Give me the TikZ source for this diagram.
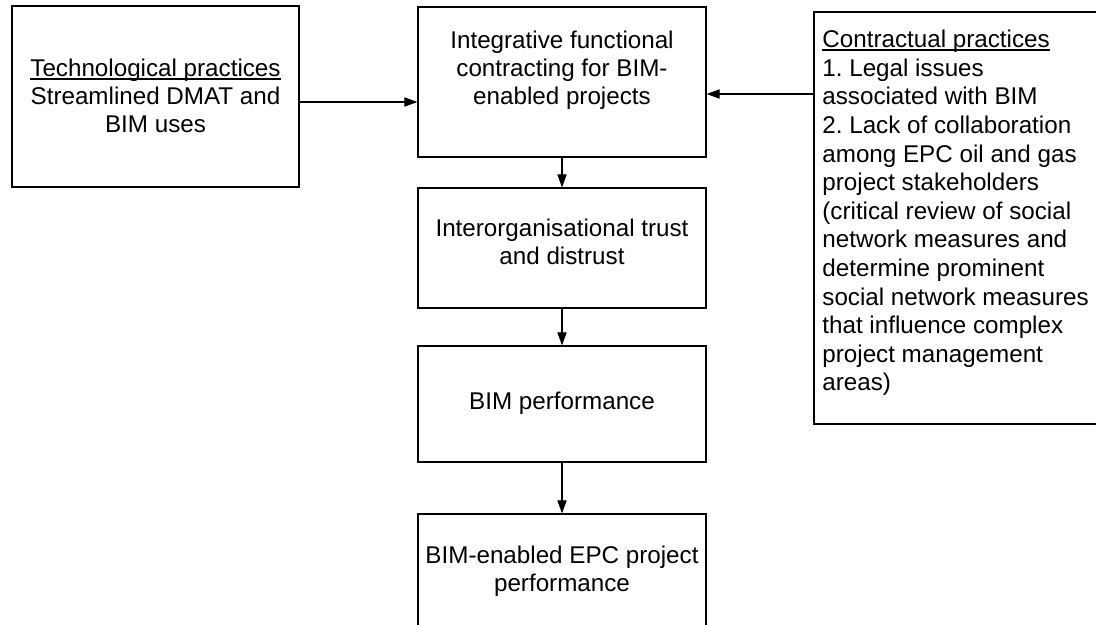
\documentclass[tikz,border=0pt]{standalone}
\usepackage{fontspec}
\setmainfont{Liberation Sans}
\usetikzlibrary{arrows.meta}
\frenchspacing
% underline set just below the baseline, as a word processor draws it
\newcommand{\wordul}[1]{\setbox0=\hbox{#1}\rlap{\rule[-0.12em]{\wd0}{0.055em}}\box0}
\begin{document}
\begin{tikzpicture}[x=0.5pt,y=-0.5pt,
  frame/.style={draw, line width=0.6pt, inner sep=0pt},
  txt/.style={inner sep=0pt, font=\fontsize{12.1pt}{14pt}\selectfont, align=center},
  link/.style={-{Triangle[length=6.5pt,width=4.6pt]}, line width=0.55pt}]
\useasboundingbox (0,0) rectangle (1096,625);
\clip (0,0) rectangle (1096,625);

% frames
\node[frame, minimum width=143.5pt, minimum height=90.5pt] (tech) at (155.5,96.5) {};
\node[frame, minimum width=144pt, minimum height=75pt] (ifc) at (562,82) {};
\node[frame, minimum width=144pt, minimum height=60pt] (trust) at (562,248) {};
\node[frame, minimum width=144pt, minimum height=58pt] (bimp) at (562,404) {};
\node[frame, minimum width=144pt, minimum height=58pt] (epc) at (562,572) {};
\node[frame, minimum width=143pt, minimum height=206pt] (contract) at (957,218) {};

% texts
\node[txt] (techtxt) at (155.5,96) {\wordul{Technological practices}\\Streamlined DMAT and\\BIM uses};
\node[txt] (ifctxt) at (562,70) {Integrative functional\\contracting for BIM-\\enabled projects};
\node[txt] (trusttxt) at (562,242) {Interorganisational trust\\and distrust};
\node[txt] (bimptxt) at (562,403) {BIM performance};
\node[txt] (epctxt) at (562,571) {BIM-enabled EPC project\\performance};
\node[txt, align=left, anchor=west, font=\fontsize{12.1pt}{14.3pt}\selectfont] (contracttxt) at (822,213) {\wordul{Contractual practices}\\
1. Legal issues\\
associated with BIM\\
2. Lack of collaboration\\
among EPC oil and gas\\
project stakeholders\\
(critical review of social\\
network measures and\\
determine prominent\\
social network measures\\
that influence complex\\
project management\\
areas)};

% connectors
\draw[link] ([yshift=-2.75pt]tech.east) -- ([yshift=-2.75pt]tech.east -| ifc.west);
\coordinate (rin) at ([yshift=-6pt]ifc.east);
\draw[link] (contract.west |- rin) -- (rin);
\draw[link] (ifc.south) -- (trust.north);
\draw[link] (trust.south) -- (bimp.north);
\draw[link] (bimp.south) -- (epc.north);
\end{tikzpicture}
\end{document}
